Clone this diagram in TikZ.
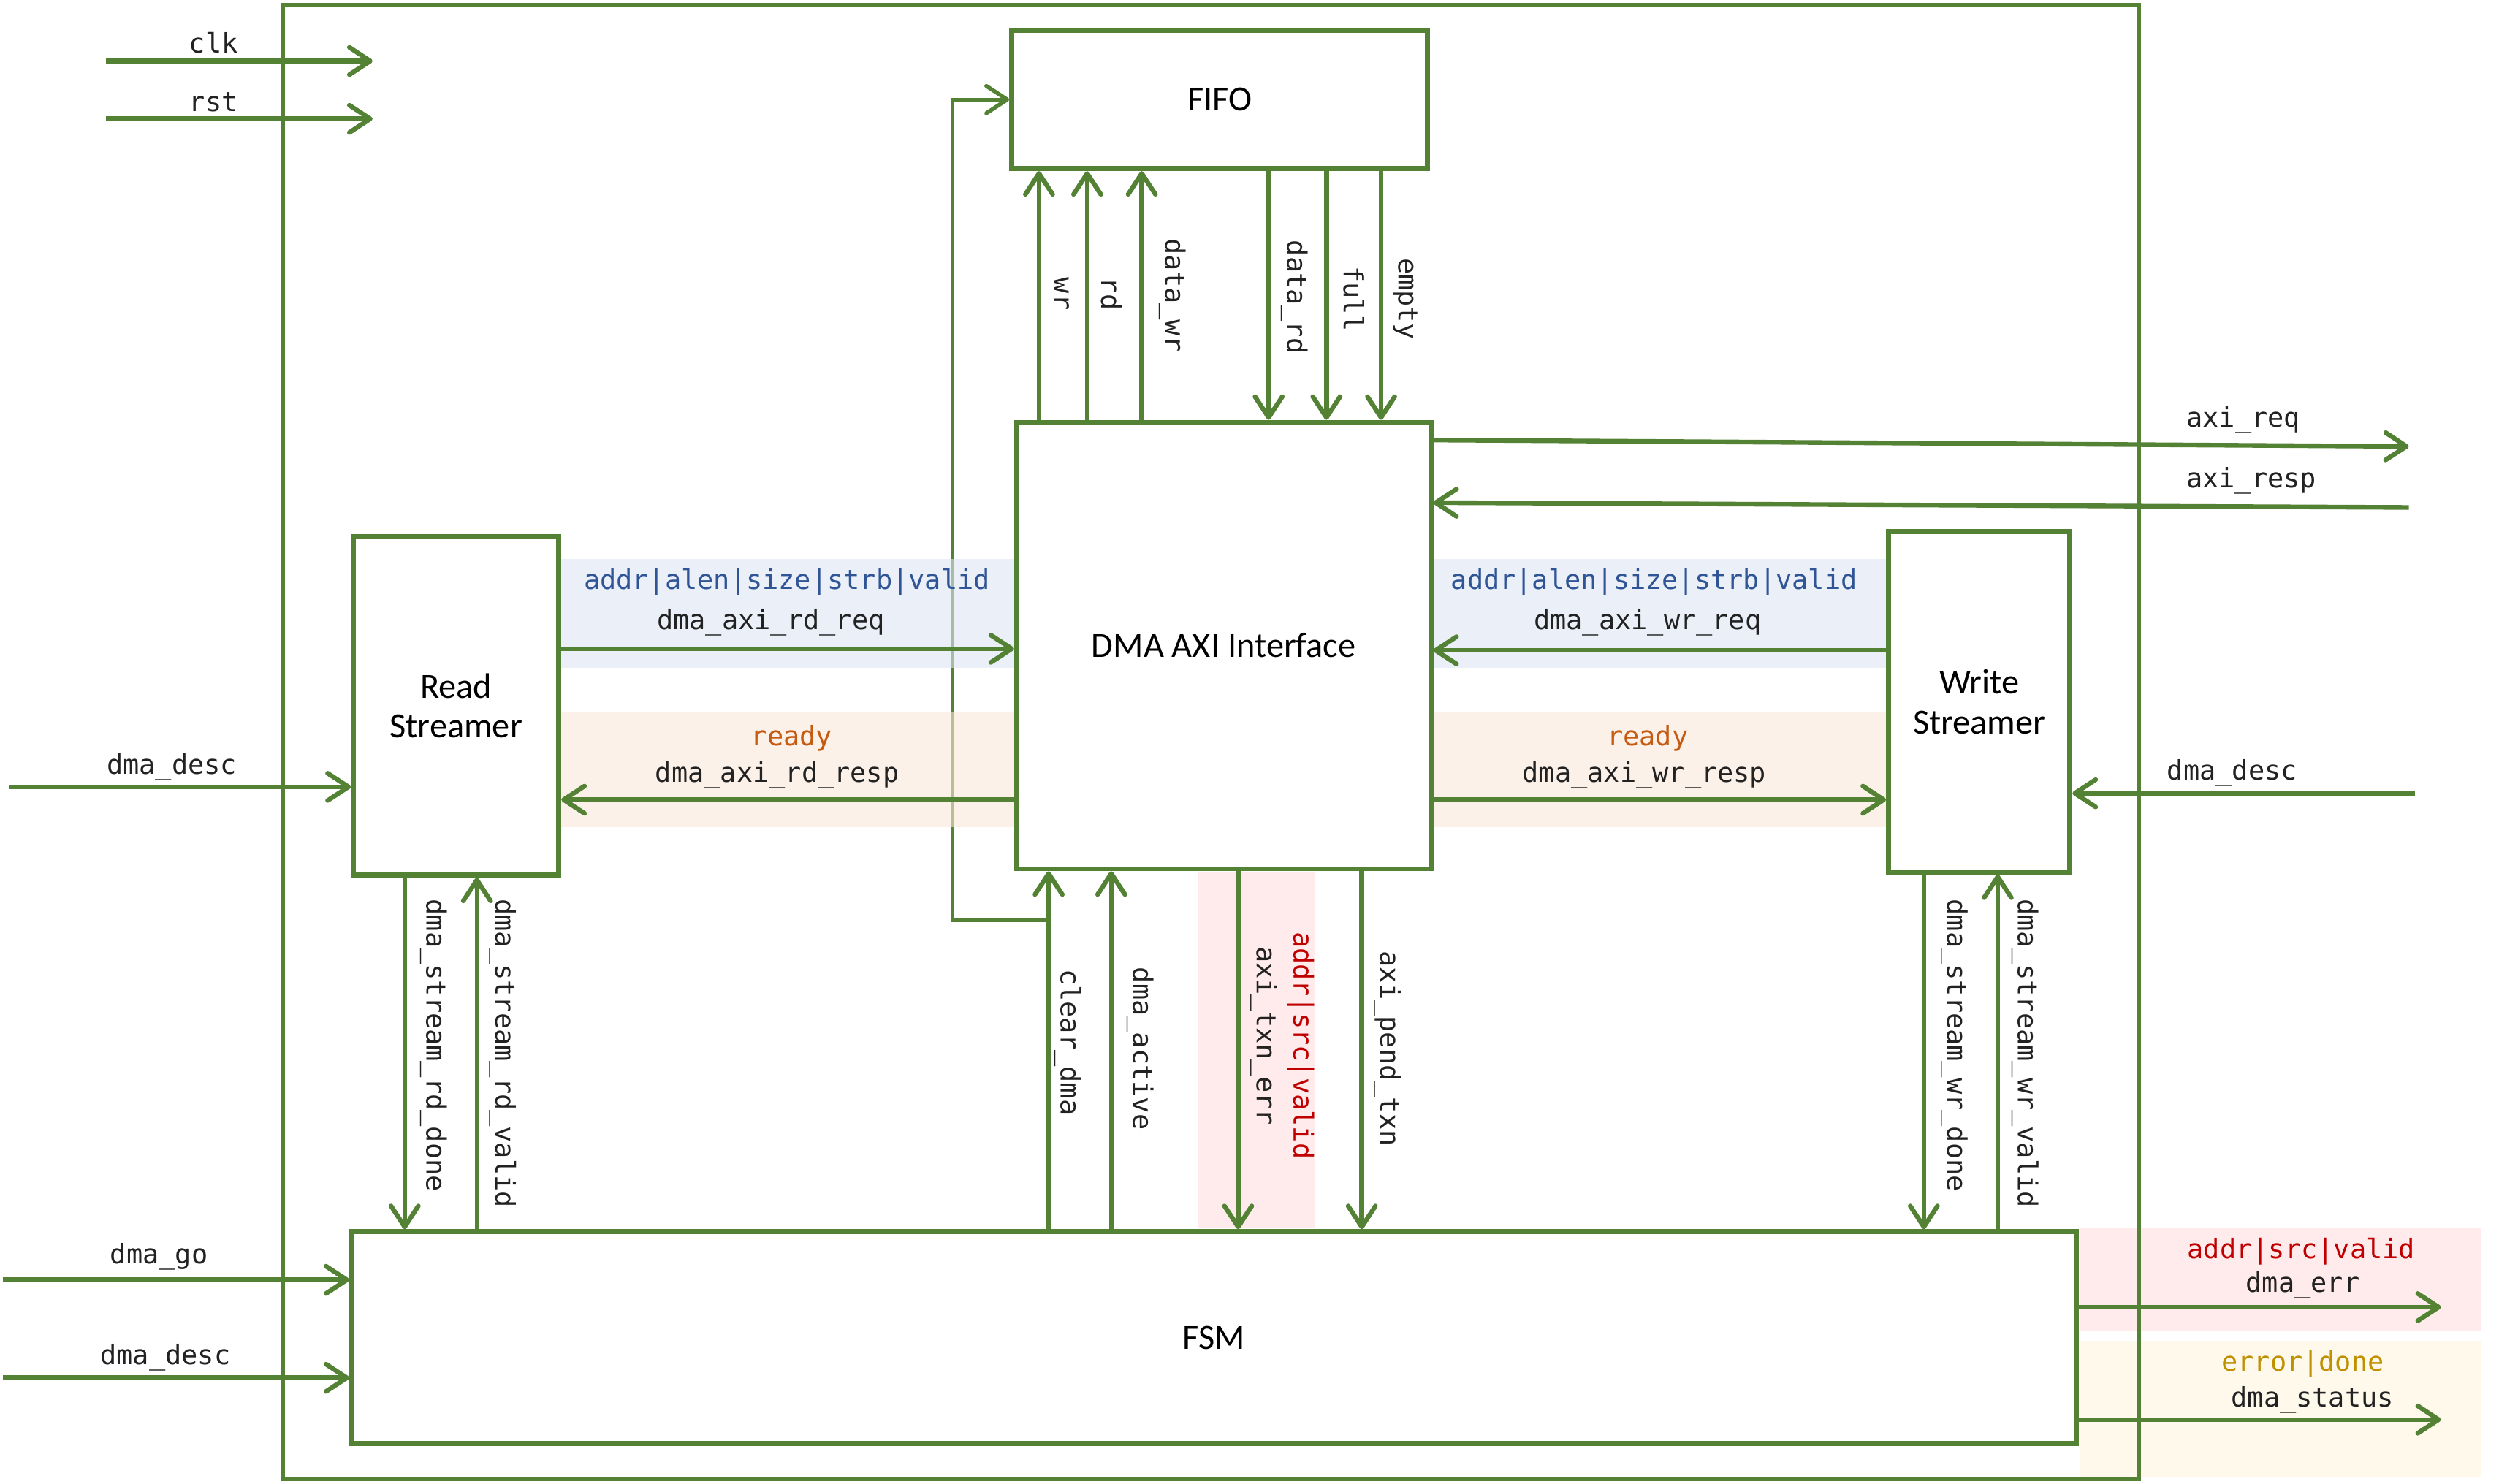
\documentclass[tikz,border=0pt]{standalone}
\usepackage{fontspec}
\setmainfont{Carlito}
\newfontfamily\monof{DejaVu Sans Mono}
\usetikzlibrary{arrows.meta}
\definecolor{G}{RGB}{84,130,53}
\definecolor{txt}{RGB}{34,34,34}
\definecolor{cblue}{RGB}{47,85,151}
\definecolor{corange}{RGB}{197,90,17}
\definecolor{cred}{RGB}{192,0,0}
\definecolor{cgold}{RGB}{191,144,0}
\definecolor{bB}{RGB}{220,228,243}
\definecolor{bO}{RGB}{250,232,217}
\definecolor{bP}{RGB}{255,222,222}
\definecolor{bC}{RGB}{255,245,223}
\pgfdeclarelayer{bgzero}
\pgfdeclarelayer{bgone}
\pgfsetlayers{bgzero,bgone,main}
\tikzset{
  blk/.style={draw=G, line width=3.1bp, inner sep=0pt, align=center, text=black,
    font=\fontsize{22bp}{25bp}\selectfont},
  outerbox/.style={draw=G, line width=2.6bp, inner sep=0pt},
  ln/.style={draw=G, line width=2.9bp},
  arr/.style={ln, -{Straight Barb[length=13bp, width=17bp, line cap=round, line join=round]}},
  lbl/.style={font=\monof\fontsize{16.8bp}{18bp}\selectfont, text=txt, inner sep=0pt, yshift=-1.5bp},
  vlbl/.style={font=\monof\fontsize{16.8bp}{18bp}\selectfont, text=txt, inner sep=0pt, rotate=-90},
  band/.style={fill opacity=0.6}
}
\begin{document}
\begin{tikzpicture}[x=1bp,y=-1bp]
\useasboundingbox (0,0) rectangle (1568,924);

% boxes
\node[outerbox, minimum width=1156bp, minimum height=918bp] (top) at (754,462) {};
\node[blk, minimum width=259bp, minimum height=86bp] (fifo) at (759.5,62) {FIFO};
\node[blk, minimum width=258bp, minimum height=278bp] (dma) at (762,402) {DMA AXI Interface};
\node[blk, minimum width=128bp, minimum height=211bp] (rs) at (284,439.5) {Read\\Streamer};
\node[blk, minimum width=113bp, minimum height=212bp] (ws) at (1232.5,437) {Write\\Streamer};
\node[blk, minimum width=1074bp, minimum height=132bp] (fsm) at (756,833) {FSM};

% x positions
\coordinate (xwr) at (647,0);
\coordinate (xrd) at (677,0);
\coordinate (xdwr) at (711,0);
\coordinate (xdrd) at (790,0);
\coordinate (xfull) at (826,0);
\coordinate (xempty) at (860,0);
\coordinate (xclr) at (653,0);
\coordinate (xact) at (692,0);
\coordinate (xerr) at (771,0);
\coordinate (xpend) at (848,0);
\coordinate (xrdd) at (252,0);
\coordinate (xrdv) at (297,0);
\coordinate (xwrd) at (1198,0);
\coordinate (xwrv) at (1244,0);
% y positions
\coordinate (yreq) at (0,274);
\coordinate (yresp) at (0,313);
\coordinate (yrdreq) at (0,404);
\coordinate (yrdresp) at (0,498);
\coordinate (ywrreq) at (0,405);
\coordinate (ywrresp) at (0,498);
\coordinate (yjn) at (0,573);
\coordinate (yerr) at (0,814);
\coordinate (ystat) at (0,884);
% free ends
\coordinate (clkL) at (66,38);
\coordinate (clkE) at (232,38);
\coordinate (rstL) at (66,74);
\coordinate (rstE) at (232,74);
\coordinate (reqE) at (1500,278);
\coordinate (respE) at (1500,316);
\coordinate (descL) at (6,490);
\coordinate (descR) at (1504,494);
\coordinate (goL) at (2,797);
\coordinate (descB) at (2,858);
\coordinate (errE) at (1520,814);
\coordinate (statE) at (1520,884);
\coordinate (loopc) at (593,300);

% loop line (under the bands)
\begin{pgfonlayer}{bgzero}
\draw[arr, line width=2.5bp] (xclr |- yjn) -| (loopc) |- (fifo.west);
\end{pgfonlayer}

% bands
\begin{pgfonlayer}{bgone}
\fill[bB, band] (349,348) rectangle (632,416);
\fill[bO, band] (349,443) rectangle (632,515);
\fill[bB, band] (893,348) rectangle (1175,416);
\fill[bO, band] (893,443) rectangle (1175,515);
\fill[bP, band] (746,543) rectangle (819,765);
\fill[bP, band] (1295,765) rectangle (1545,829);
\fill[bC, band] (1295,835) rectangle (1545,920);
\end{pgfonlayer}

% clk / rst
\draw[arr] (clkL) -- (clkE);
\node[lbl] (lclk) at (133,25) {clk};
\draw[arr] (rstL) -- (rstE);
\node[lbl] (lrst) at (133,62) {rst};

% FIFO <-> DMA
\draw[arr] (dma.north -| xwr) -- (fifo.south -| xwr);
\draw[arr] (dma.north -| xrd) -- (fifo.south -| xrd);
\draw[arr] (dma.north -| xdwr) -- (fifo.south -| xdwr);
\draw[arr] (fifo.south -| xdrd) -- (dma.north -| xdrd);
\draw[arr] (fifo.south -| xfull) -- (dma.north -| xfull);
\draw[arr] (fifo.south -| xempty) -- (dma.north -| xempty);
\node[vlbl] (lwr) at (661,183) {wr};
\node[vlbl] (lrd) at (692,183) {rd};
\node[vlbl] (ldwr) at (730,184) {data\_wr};
\node[vlbl] (ldrd) at (806,185) {data\_rd};
\node[vlbl] (lfull) at (843,186) {full};
\node[vlbl] (lempty) at (875,186) {empty};

% AXI external
\draw[arr] (dma.east |- yreq) -- (reqE);
\node[lbl] (lreq) at (1397,260) {axi\_req};
\draw[arr] (respE) -- (dma.east |- yresp);
\node[lbl] (lresp) at (1402,298) {axi\_resp};

% read streamer <-> DMA
\draw[arr] (rs.east |- yrdreq) -- (dma.west |- yrdreq);
\node[lbl, text=cblue] (lrb) at (490,361) {addr|alen|size|strb|valid};
\node[lbl] (lrdreq) at (480,386) {dma\_axi\_rd\_req};
\draw[arr] (dma.west |- yrdresp) -- (rs.east |- yrdresp);
\node[lbl, text=corange] (lro) at (493,458) {ready};
\node[lbl] (lrdresp) at (484,481) {dma\_axi\_rd\_resp};

% write streamer <-> DMA
\draw[arr] (ws.west |- ywrreq) -- (dma.east |- ywrreq);
\node[lbl, text=cblue] (lwb) at (1030,361) {addr|alen|size|strb|valid};
\node[lbl] (lwrreq) at (1026,386) {dma\_axi\_wr\_req};
\draw[arr] (dma.east |- ywrresp) -- (ws.west |- ywrresp);
\node[lbl, text=corange] (lwo) at (1026,458) {ready};
\node[lbl] (lwrresp) at (1024,481) {dma\_axi\_wr\_resp};

% descriptors into streamers
\draw[arr] (descL) -- (rs.west |- descL);
\node[lbl] (ldescl) at (107,476) {dma\_desc};
\draw[arr] (descR) -- (ws.east |- descR);
\node[lbl] (ldescr) at (1390,480) {dma\_desc};

% streamers <-> FSM
\draw[arr] (rs.south -| xrdd) -- (fsm.north -| xrdd);
\draw[arr] (fsm.north -| xrdv) -- (rs.south -| xrdv);
\node[vlbl] (lrdd) at (270,651) {dma\_stream\_rd\_done};
\node[vlbl] (lrdv) at (313,656) {dma\_stream\_rd\_valid};
\draw[arr] (ws.south -| xwrd) -- (fsm.north -| xwrd);
\draw[arr] (fsm.north -| xwrv) -- (ws.south -| xwrv);
\node[vlbl] (lwrd) at (1217,651) {dma\_stream\_wr\_done};
\node[vlbl] (lwrv) at (1261,656) {dma\_stream\_wr\_valid};

% DMA <-> FSM
\draw[arr] (fsm.north -| xclr) -- (dma.south -| xclr);
\draw[arr] (fsm.north -| xact) -- (dma.south -| xact);
\draw[arr] (dma.south -| xerr) -- (fsm.north -| xerr);
\draw[arr] (dma.south -| xpend) -- (fsm.north -| xpend);
\node[vlbl] (lclr) at (665,649) {clear\_dma};
\node[vlbl] (lact) at (710,653) {dma\_active};
\node[vlbl] (ltxn) at (787,645) {axi\_txn\_err};
\node[vlbl, text=cred] (ltxnr) at (810,651) {addr|src|valid};
\node[vlbl] (lpend) at (864,653) {axi\_pend\_txn};

% FSM inputs
\draw[arr] (goL) -- (fsm.west |- goL);
\node[lbl] (lgo) at (99,781) {dma\_go};
\draw[arr] (descB) -- (fsm.west |- descB);
\node[lbl] (ldescb) at (103,844) {dma\_desc};

% FSM outputs
\draw[arr] (fsm.east |- yerr) -- (errE);
\node[lbl, text=cred] (lerrr) at (1433,778) {addr|src|valid};
\node[lbl] (lerr) at (1434,799) {dma\_err};
\draw[arr] (fsm.east |- ystat) -- (statE);
\node[lbl, text=cgold] (lstg) at (1434,848) {error|done};
\node[lbl] (lstat) at (1440,870) {dma\_status};
\end{tikzpicture}
\end{document}
